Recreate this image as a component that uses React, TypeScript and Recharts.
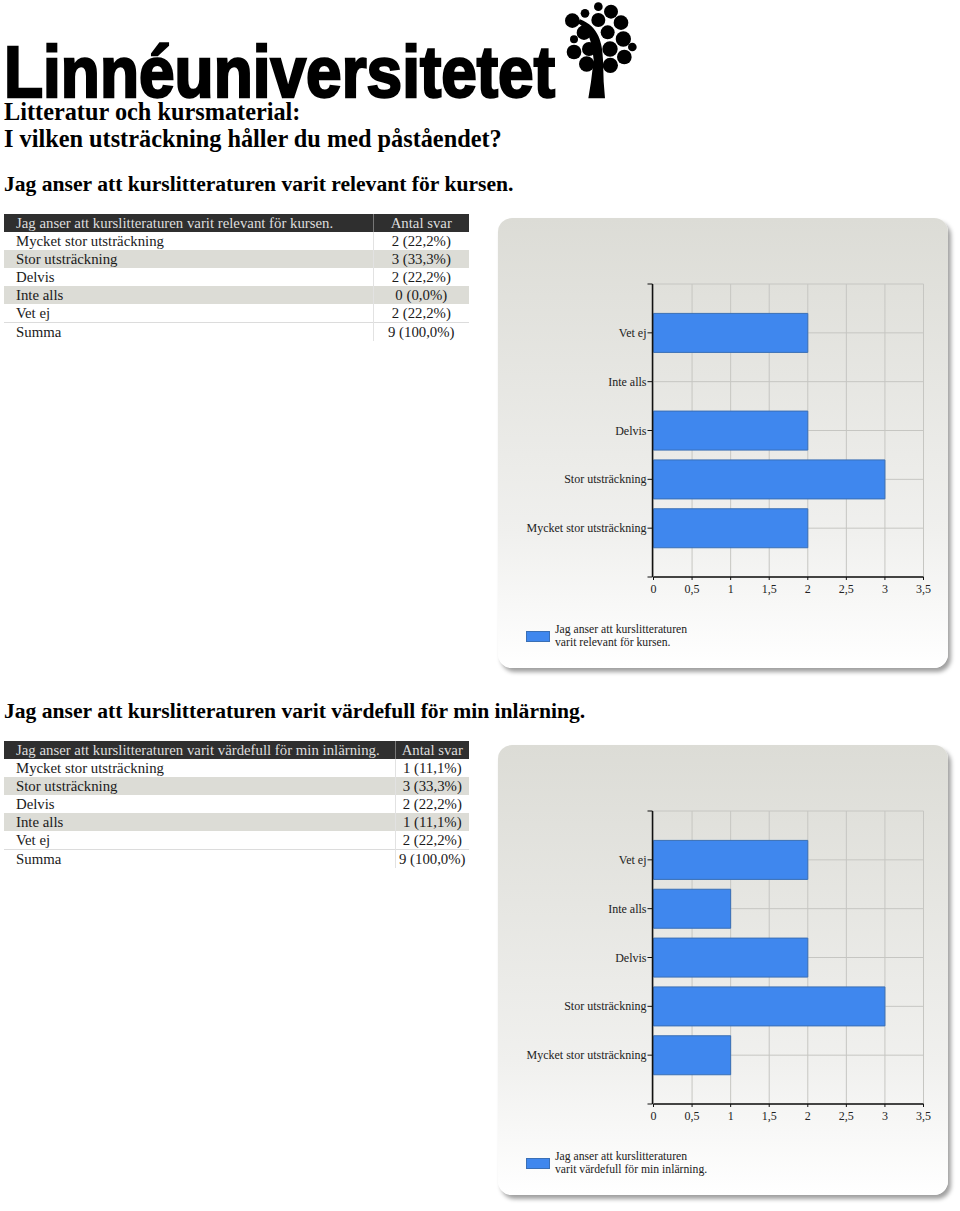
import { BarChart, Bar, XAxis, YAxis, CartesianGrid, Legend } from "recharts";

const categories = ["Mycket stor utsträckning", "Stor utsträckning", "Delvis", "Inte alls", "Vet ej"];
const relevantValues = [2, 3, 2, 0, 2];
const relevantShares = ["2 (22,2%)", "3 (33,3%)", "2 (22,2%)", "0 (0,0%)", "2 (22,2%)"];
const valuableValues = [1, 3, 2, 1, 2];
const valuableShares = ["1 (11,1%)", "3 (33,3%)", "2 (22,2%)", "1 (11,1%)", "2 (22,2%)"];
const xTicks = [0, 0.5, 1, 1.5, 2, 2.5, 3, 3.5];
const gridTicks = [0, 1, 2, 3, 4, 5, 6];
const slots = [1, 2, 3, 4, 5];

const relevantTitle = "Jag anser att kurslitteraturen varit relevant för kursen.";
const valuableTitle = "Jag anser att kurslitteraturen varit värdefull för min inlärning.";
const relevantLegend = "Jag anser att kurslitteraturen\nvarit relevant för kursen.";
const valuableLegend = "Jag anser att kurslitteraturen\nvarit värdefull för min inlärning.";

// tree blobs of the logo: x, y, r
const treeBlobs = [
  [130, 20, 13], [168, 35, 21], [90, 40, 13], [52, 62, 22], [130, 60, 21], [198, 68, 22],
  [87, 98, 22], [158, 97, 21], [205, 117, 23], [57, 118, 12], [102, 147, 21], [165, 147, 23],
  [232, 141, 13], [57, 156, 22], [208, 171, 22], [95, 192, 23], [166, 196, 23],
];

const serif = "'Liberation Serif', serif";

function Heading({ top, size = 24.3, children }: any) {
  return (
    <div
      style={{
        position: "absolute",
        left: 4,
        top: top - 13,
        height: 26,
        lineHeight: "26px",
        fontSize: size,
        fontWeight: 700,
        color: "#000",
        whiteSpace: "nowrap",
      }}
    >
      {children}
    </div>
  );
}

function Logo() {
  return (
    <>
      <svg width={600} height={110} style={{ position: "absolute", left: 0, top: 0, overflow: "visible" }}>
        <text
          x={4}
          y={96.5}
          fontFamily="'Liberation Sans', sans-serif"
          fontWeight={700}
          fontSize={73}
          textLength={551}
          lengthAdjust="spacingAndGlyphs"
          fill="#000"
          stroke="#000"
          strokeWidth={2.5}
        >
          Linnéuniversitetet
        </text>
      </svg>
      <svg width={90} height={105} viewBox="0 0 270 315" style={{ position: "absolute", left: 555, top: 0 }}>
        {treeBlobs.map(([x, y, r], i) => (
          <circle key={i} cx={x} cy={y} r={r} fill="#000" />
        ))}
        <path
          d="M100 295 L150 295 L146 245 L144 180 C142 130 132 80 75 58 L68 70 C100 85 112 130 116 180 L108 245 Z"
          fill="#000"
        />
      </svg>
    </>
  );
}

function SurveyTable({ top, title, shares, firstCol }: any) {
  const total = "9 (100,0%)";
  const cell = { padding: "0 0 0 12px", height: 18, lineHeight: "18px" };
  const valueCell = { padding: 0, height: 18, lineHeight: "18px", textAlign: "center" as const, borderLeft: "1px solid #e2e2e2" };
  return (
    <table
      style={{
        position: "absolute",
        left: 4,
        top,
        width: 465,
        tableLayout: "fixed",
        borderCollapse: "collapse",
        fontSize: 14.8,
        color: "#1a1a1a",
      }}
    >
      <colgroup>
        <col style={{ width: firstCol }} />
        <col />
      </colgroup>
      <tbody>
        <tr style={{ background: "#2f2f2f", color: "#dedede" }}>
          <td style={{ ...cell, whiteSpace: "nowrap" }}>{title}</td>
          <td style={{ ...valueCell, borderLeft: "1px solid #777" }}>Antal svar</td>
        </tr>
        {categories.map((name, i) => (
          <tr key={name} style={{ background: i % 2 === 1 ? "#dcdcd6" : "#fff" }}>
            <td style={cell}>{name}</td>
            <td style={valueCell}>{shares[i]}</td>
          </tr>
        ))}
        <tr style={{ borderTop: "1px solid #dcdcdc" }}>
          <td style={{ ...cell, lineHeight: "16px" }}>Summa</td>
          <td style={{ ...valueCell, lineHeight: "16px" }}>{total}</td>
        </tr>
      </tbody>
    </table>
  );
}

function LegendBox({ payload }: any) {
  const item = payload?.[0];
  if (!item) return null;
  return (
    <div style={{ display: "flex", alignItems: "center", fontFamily: serif, fontSize: 11.7, lineHeight: "13px", color: "#222" }}>
      <span
        style={{
          width: 24,
          height: 11,
          background: "#3f87ee",
          border: "1px solid #3a6fb5",
          boxSizing: "border-box",
          marginRight: 5,
        }}
      />
      <span style={{ whiteSpace: "pre", fontWeight: 500 }}>{item.value}</span>
    </div>
  );
}

// plain tick so long names stay on one line
function CategoryTick({ x, y, payload }: any) {
  return (
    <text x={x - 3} y={y} dy={4} textAnchor="end" fill="#222" fontSize={12}>
      {payload.value}
    </text>
  );
}

function Panel({ top, values, legend }: any) {
  const data = categories.map((name, i) => ({ name, value: values[i], slot: slots[i] }));
  return (
    <div
      style={{
        position: "absolute",
        left: 498,
        top,
        width: 450,
        height: 450,
        borderRadius: 14,
        background: "linear-gradient(#dcdcd6, #f0f0ee 70%, #ffffff)",
        boxShadow: "3px 4px 4px #a0a0a0",
      }}
    >
      <BarChart
        width={450}
        height={450}
        layout="vertical"
        data={data}
        margin={{ top: 66, right: 24.5, bottom: 61, left: 0 }}
        style={{ fontFamily: serif }}
      >
        <CartesianGrid yAxisId="grid" stroke="#c6c6c2" strokeWidth={1} />
        <XAxis
          type="number"
          domain={[0, 3.5]}
          ticks={xTicks}
          interval={0}
          height={30}
          tickSize={3}
          tickMargin={4}
          tickFormatter={(v: number) => String(v).replace(".", ",")}
          tick={{ fill: "#222", fontSize: 12 }}
          axisLine={{ stroke: "#111", strokeWidth: 1.5 }}
          tickLine={{ stroke: "#111" }}
        />
        <YAxis
          yAxisId="cat"
          type="category"
          dataKey="name"
          reversed
          width={1}
          padding={{ top: 24.4, bottom: 24.4 }}
          interval={0}
          tickSize={0}
          tickMargin={4}
          tick={<CategoryTick />}
          axisLine={false}
          tickLine={false}
        />
        <YAxis
          yAxisId="grid"
          type="number"
          dataKey="slot"
          domain={[0, 6]}
          allowDataOverflow
          ticks={gridTicks}
          interval={0}
          width={154.5}
          tickSize={5}
          tickFormatter={() => ""}
          axisLine={{ stroke: "#111", strokeWidth: 1.5 }}
          tickLine={{ stroke: "#111" }}
        />
        <Legend
          layout="horizontal"
          verticalAlign="middle"
          align="center"
          wrapperStyle={{ left: 28, top: 405, width: "auto" }}
          content={<LegendBox />}
        />
        <Bar
          yAxisId="cat"
          dataKey="value"
          name={legend}
          barSize={39}
          fill="#3f87ee"
          stroke="#3a6fb5"
          strokeWidth={1}
          isAnimationActive={false}
        />
      </BarChart>
    </div>
  );
}

export default function App() {
  return (
    <div
      style={{
        position: "absolute",
        left: 0,
        top: 0,
        width: 960,
        height: 1211,
        background: "#fff",
        overflow: "hidden",
        fontFamily: serif,
      }}
    >
      <Logo />
      <Heading top={112}>Litteratur och kursmaterial:</Heading>
      <Heading top={139}>I vilken utsträckning håller du med påståendet?</Heading>
      <Heading top={184} size={21.6}>{relevantTitle}</Heading>
      <SurveyTable top={214} title={relevantTitle} shares={relevantShares} firstCol={369} />
      <Panel top={218} values={relevantValues} legend={relevantLegend} />
      <Heading top={711} size={21.6}>{valuableTitle}</Heading>
      <SurveyTable top={741} title={valuableTitle} shares={valuableShares} firstCol={391} />
      <Panel top={745} values={valuableValues} legend={valuableLegend} />
    </div>
  );
}
